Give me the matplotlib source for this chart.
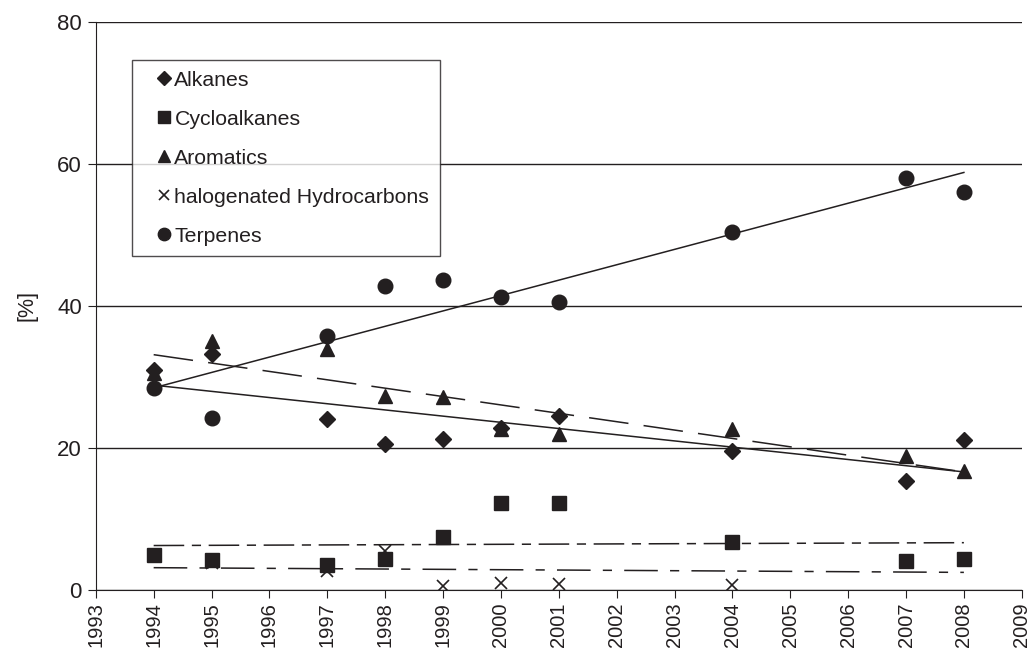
import numpy as np
import matplotlib
matplotlib.use('Agg')
import matplotlib.pyplot as plt

plt.rcParams['font.family'] = ['Liberation Sans', 'DejaVu Sans']

# Data
years = [1994, 1995, 1997, 1998, 1999, 2000, 2001, 2004, 2007, 2008]
alkanes = [31.0, 33.3, 24.1, 20.5, 21.2, 22.8, 24.5, 19.6, 15.3, 21.1]
cycloalkanes = [4.9, 4.2, 3.5, 4.4, 7.5, 12.3, 12.3, 6.7, 4.0, 4.4]
aromatics = [30.6, 35.0, 34.0, 27.3, 27.2, 22.7, 21.9, 22.7, 18.9, 16.7]
halogenated = [4.9, 3.8, 2.7, 5.5, 0.5, 0.9, 0.8, 0.7, 4.0, 4.4]
terpenes = [28.4, 24.2, 35.8, 42.8, 43.6, 41.3, 40.6, 50.4, 58.1, 56.0]

x_ticks = list(range(1993, 2010))
y_ticks = [0, 20, 40, 60, 80]

ink = '#231f20'

fig, ax = plt.subplots(figsize=(10.3, 6.51), dpi=100)
fig.subplots_adjust(left=0.093, right=0.992, top=0.966, bottom=0.094)

series = [
    ('Alkanes', alkanes, 'D', 8, '-'),
    ('Cycloalkanes', cycloalkanes, 's', 9.5, (0, (20, 5, 6, 5))),
    ('Aromatics', aromatics, '^', 10.5, (0, (26, 10))),
    ('halogenated Hydrocarbons', halogenated, 'x', 9, (0, (22, 8, 6, 8))),
    ('Terpenes', terpenes, 'o', 10.5, '-'),
]

for name, vals, mk, ms, ls in series:
    if mk == 'x':
        ax.plot(years, vals, linestyle='none', marker=mk, markersize=ms,
                color=ink, markeredgewidth=1.2, label=name, zorder=3)
    else:
        ax.plot(years, vals, linestyle='none', marker=mk, markersize=ms,
                color=ink, label=name, zorder=3)
    # linear trendline
    k, b = np.polyfit(years, vals, 1)
    xs = np.array([years[0], years[-1]])
    ax.plot(xs, k * xs + b, color=ink, linewidth=1.1, linestyle=ls, zorder=2)

ax.set_xlim(1993, 2009)
ax.set_ylim(0, 80)
ax.set_xticks(x_ticks)
ax.set_xticklabels([str(t) for t in x_ticks], rotation=90, fontsize=14.5, color=ink)
ax.set_yticks(y_ticks)
ax.set_yticklabels([str(t) for t in y_ticks], fontsize=16, color=ink)
ax.set_ylabel('[%]', fontsize=15.5, color=ink, labelpad=14)

ax.yaxis.grid(True, color=ink, linewidth=1.0)
ax.set_axisbelow(True)
for s in ['top', 'right']:
    ax.spines[s].set_visible(False)
for s in ['left', 'bottom']:
    ax.spines[s].set_color(ink)
ax.tick_params(direction='out', length=6, color=ink, pad=4)
ax.tick_params(axis='x', pad=3)

leg = ax.legend(loc='upper left', bbox_to_anchor=(0.039, 0.933), fontsize=15.3,
                frameon=True, fancybox=False, handlelength=2.0, handletextpad=-0.5,
                labelspacing=0.94, borderpad=0.5, markerscale=0.85,
                borderaxespad=0)
leg.get_frame().set_edgecolor(ink)
leg.get_frame().set_linewidth(1.0)
for t in leg.get_texts():
    t.set_color(ink)

fig.savefig('out.png', dpi=100)
